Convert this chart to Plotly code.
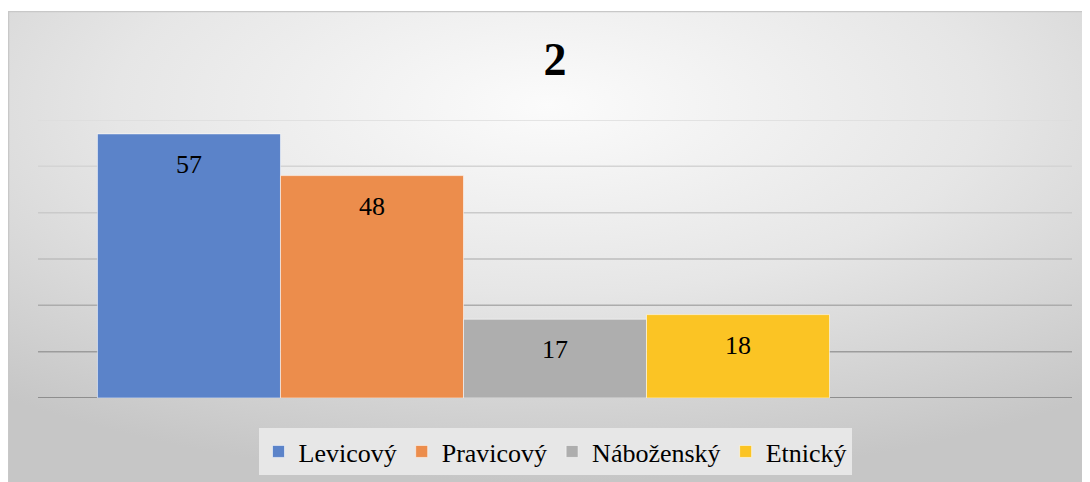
import base64
import plotly.graph_objects as go

# Data
title_text = "2"
series_names = ["Levicový", "Pravicový", "Náboženský", "Etnický"]
series_values = [57, 48, 17, 18]
series_colors = ["#5b83c9", "#ec8d4c", "#aeaeae", "#fbc424"]
category = [""]
y_ticks = [0, 10, 20, 30, 40, 50, 60]

SERIF = "Times New Roman, Liberation Serif, serif"

# page has an 8px body margin, so the figure is 8px smaller than the window
W, H = 1082, 474
L, R, T, B = 30, 18, 112, 84
plot_w, plot_h = W - L - R, H - T - B

# Radial gradient background (Excel style) as an SVG image
svg = """<svg xmlns='http://www.w3.org/2000/svg' width='1082' height='471' viewBox='0 0 1082 471' preserveAspectRatio='none'>
<defs><radialGradient id='g' cx='50%' cy='20%' r='80%' fx='50%' fy='20%'>
<stop offset='0' stop-color='#fbfbfb'/><stop offset='0.5' stop-color='#e6e6e6'/><stop offset='1' stop-color='#c6c6c6'/>
</radialGradient></defs>
<rect x='0' y='0' width='1082' height='471' fill='url(#g)'/>
<line x1='0' y1='0.5' x2='1082' y2='0.5' stroke='#c8c8c8' stroke-width='1.5'/>
<line x1='0.5' y1='0' x2='0.5' y2='471' stroke='#c8c8c8' stroke-width='1.5'/>
</svg>"""
bg_src = "data:image/svg+xml;base64," + base64.b64encode(svg.encode()).decode()

fig = go.Figure()

for i, (name, val, col) in enumerate(zip(series_names, series_values, series_colors)):
    fig.add_trace(go.Bar(
        x=category, y=[val], name=name, offsetgroup=str(i),
        marker=dict(color=col, line=dict(color="rgba(255,255,255,0.55)", width=1)),
        hoverinfo="name+y",
    ))

# empty fifth slot, as in the original Excel chart
fig.add_trace(go.Bar(x=category, y=[None], offsetgroup="4", showlegend=False, hoverinfo="skip"))

# data labels, placed inside the top of each bar
for i, val in enumerate(series_values):
    fig.add_trace(go.Scatter(
        x=category, y=[val], offsetgroup=str(i), mode="markers+text",
        marker=dict(size=30, opacity=0), text=[str(val)], textposition="bottom center",
        textfont=dict(family=SERIF, size=26, color="black"),
        showlegend=False, hoverinfo="skip",
    ))

# gridlines, darker towards the bottom
grid_cols = ["#8e8e8e", "#9c9c9c", "#acacac", "#bcbcbc", "#cacaca", "#d4d4d4", "#dcdcdc"]
shapes = []
for t, c in zip(y_ticks, grid_cols):
    shapes.append(dict(type="line", xref="paper", yref="y", x0=0, x1=1, y0=t, y1=t,
                       line=dict(color=c, width=2 if t == 0 else 1.5), layer="below"))

fig.update_layout(
    width=W, height=H,
    margin=dict(l=L, r=R, t=T, b=B, autoexpand=False),
    paper_bgcolor="white", plot_bgcolor="rgba(0,0,0,0)",
    barmode="group", bargap=0.115, bargroupgap=0,
    scattermode="group", scattergap=0.115,
    title=dict(text=f"<b>{title_text}</b>", x=0.5055, xanchor="center", y=0.892, yanchor="middle",
               font=dict(family=SERIF, size=46, color="black")),
    legend=dict(orientation="h", x=0.5, xanchor="center", y=-0.108, yanchor="top",
                bgcolor="#e7e7e7", font=dict(family=SERIF, size=26, color="black"),
                itemwidth=30, traceorder="normal"),
    showlegend=True,
    shapes=shapes,
    images=[dict(source=bg_src, xref="paper", yref="paper",
                 x=-L / plot_w, y=(H - B - 3) / plot_h,
                 sizex=W / plot_w, sizey=(H - 3) / plot_h,
                 sizing="stretch", xanchor="left", yanchor="top", layer="below")],
)
fig.update_xaxes(showticklabels=False, showgrid=False, zeroline=False, showline=False)
fig.update_yaxes(range=[0, 60], showticklabels=False, showgrid=False, zeroline=False,
                 showline=False, tickvals=y_ticks)

fig.write_html("out.html")
